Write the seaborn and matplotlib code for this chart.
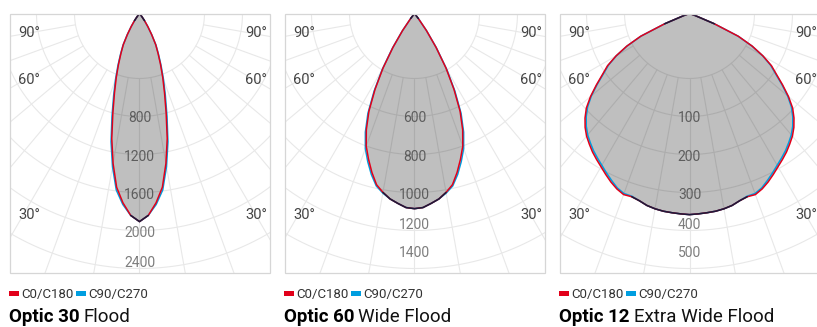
import numpy as np
import matplotlib
matplotlib.use('Agg')
import matplotlib.pyplot as plt
from matplotlib.patches import Rectangle
import seaborn as sns

sns.set_theme(style='white')
plt.rcParams['font.family'] = ['Roboto', 'DejaVu Sans']

# Datos: intensidad luminosa (cd/klm) por ángulo gamma, planos C0/C180 y C90/C270
gamma_30 = [0, 2.5, 5, 7.5, 10, 12.5, 15, 17.5, 20, 22.5, 25, 27.5, 30, 32.5, 35, 37.5, 40]
c0_30 = [1900, 1845, 1735, 1600, 1390, 1170, 940, 760, 620, 500, 400, 320, 220, 140, 80, 30, 0]
c90_30 = [1900, 1845, 1750, 1625, 1420, 1200, 970, 785, 640, 515, 410, 326, 224, 142, 80, 30, 0]

gamma_60 = [0, 2.5, 5, 7.5, 10, 12.5, 15, 17.5, 20, 22.5, 25, 27.5, 30, 32.5, 35, 37.5, 40]
c0_60 = [1085, 1080, 1060, 1040, 1010, 975, 915, 850, 785, 700, 600, 475, 350, 222, 115, 35, 0]
c90_60 = [1085, 1080, 1060, 1040, 1014, 982, 927, 864, 799, 714, 613, 486, 358, 228, 118, 35, 0]

gamma_12 = [0, 2.5, 5, 7.5, 10, 12.5, 15, 17.5, 20, 22.5, 25, 27.5, 30, 32.5, 35,
            37.5, 40, 42.5, 45, 47.5, 50, 52.5, 55, 57.5, 60, 62.5, 65, 67.5, 70, 72.5]
c0_12 = [358, 357, 356, 355, 353, 350, 345, 342, 343, 338, 331, 323, 315, 308, 301,
         293, 285, 275, 263, 249, 230, 209, 189, 173, 151, 126, 96, 48, 11, 0]
c90_12 = [358, 357, 356, 355, 353, 350, 345, 341, 341, 336, 328, 320, 312, 305, 298,
          290, 282, 272, 260, 246, 228, 207, 187, 171, 150, 125, 95, 48, 11, 0]

rings_30 = ['800', '1200', '1600', '2000', '2400']
rings_60 = ['600', '800', '1000', '1200', '1400']
rings_12 = ['100', '200', '300', '400', '500']

titulos_bold = ['Optic 30', 'Optic 60', 'Optic 12']
titulos_resto = ['Flood', 'Wide Flood', 'Extra Wide Flood']
leyenda = ['C0/C180', 'C90/C270']
angulos = ['90°', '60°', '30°']

# Estilo / posiciones (pixeles de la figura, origen arriba)
W, H = 817, 327
ROJO, AZUL, OSCURO = '#e2001a', '#009ee0', '#1b1b3a'
GRID = '#e8e8e8'
box_w, box_h, top = 260, 259, 13.5
R = 300
ring_px = [65, 103, 141, 179, 217, 255, 293]

paneles = [
    dict(g=gamma_30, c0=c0_30, c90=c90_30, rings=rings_30, k=9.13,
         lab_y=[118, 157, 195, 233, 263]),
    dict(g=gamma_60, c0=c0_60, c90=c90_60, rings=rings_60, k=5.56,
         lab_y=[118, 157, 195, 225, 253]),
    dict(g=gamma_12, c0=c0_12, c90=c90_12, rings=rings_12, k=1.78,
         lab_y=[118, 157, 195, 225, 253]),
]


def fx(x):
    return x / W


def fy(y):
    return 1 - y / H


def espejo(g, c):
    g = np.asarray(g, float)
    c = np.asarray(c, float)
    th = np.deg2rad(np.concatenate([-g[::-1], g[1:]]))
    r = np.concatenate([c[::-1], c[1:]])
    return th, r


fig = plt.figure(figsize=(W / 100, H / 100), dpi=100)
renderer = fig.canvas.get_renderer()

for i, p in enumerate(paneles):
    cx = 139.5 + 275 * i
    x0 = cx - 130
    k = p['k']
    ax = fig.add_axes([fx(cx - R), fy(top + R), 2 * R / W, 2 * R / H], projection='polar')
    ax.set_theta_zero_location('S')
    ax.set_ylim(0, R * k)
    ax.axis('off')
    clip = Rectangle((fx(x0), fy(top + box_h)), box_w / W, box_h / H, transform=fig.transFigure)

    # rejilla polar
    t = np.linspace(0, 2 * np.pi, 721)
    for rp in ring_px:
        ln, = ax.plot(t, np.full_like(t, rp * k), color=GRID, lw=0.8, zorder=1)
        ln.set_clip_path(clip)
    for a in range(0, 360, 10):
        ln, = ax.plot([np.deg2rad(a)] * 2, [ring_px[0] * k, R * k], color=GRID, lw=0.8, zorder=1)
        ln.set_clip_path(clip)

    # etiquetas de los anillos
    for lab, ly in zip(p['rings'], p['lab_y']):
        ax.text(0, (ly - top) * k, lab, ha='center', va='center', fontsize=10,
                color='#7d7d7d', zorder=2)

    # curvas
    th, r0 = espejo(p['g'], p['c0'])
    _, r90 = espejo(p['g'], p['c90'])
    f = ax.fill(th, r0, color='black', alpha=0.25, lw=0, zorder=3)[0]
    f.set_clip_path(clip)
    l1, = ax.plot(th, r90, color=AZUL, lw=1.1, zorder=4)
    l2, = ax.plot(th, r0, color=ROJO, lw=1.1, zorder=5)
    igual = np.where(np.isclose(r0, r90, rtol=0.004), r0, np.nan)
    l3, = ax.plot(th, igual, color=OSCURO, lw=1.1, zorder=6)
    for ln in (l1, l2, l3):
        ln.set_clip_path(clip)

    # marco
    fig.add_artist(Rectangle((fx(x0), fy(top + box_h)), box_w / W, box_h / H,
                             transform=fig.transFigure, fill=False, ec='#d6d6d6', lw=0.9, zorder=10))

    # etiquetas de ángulo
    for lab, ay in zip(angulos, [33, 80, 215]):
        fig.text(fx(x0 + 8.5), fy(ay), lab, ha='left', va='center', fontsize=10.5, color='#444444')
        fig.text(fx(x0 + box_w - 2.5), fy(ay), lab, ha='right', va='center', fontsize=10.5, color='#444444')

    # leyenda
    xs = x0 - 0.5
    for lab, col in zip(leyenda, [ROJO, AZUL]):
        fig.add_artist(Rectangle((fx(xs), fy(296)), 10 / W, 5 / H, transform=fig.transFigure,
                                 color=col, lw=0))
        tt = fig.text(fx(xs + 12), fy(298), lab, ha='left', va='baseline', fontsize=9.5, color='#333333')
        xs = tt.get_window_extent(renderer).x1 + 2.5

    # título
    tb = fig.text(fx(x0 - 0.5), fy(322.5), titulos_bold[i], ha='left', va='baseline',
                  fontsize=13.5, fontweight='bold', color='black')
    xb = tb.get_window_extent(renderer).x1
    fig.text(fx(xb + 4), fy(322.5), titulos_resto[i], ha='left', va='baseline',
             fontsize=13.5, color='#111111')

fig.savefig('out.png', dpi=100)
